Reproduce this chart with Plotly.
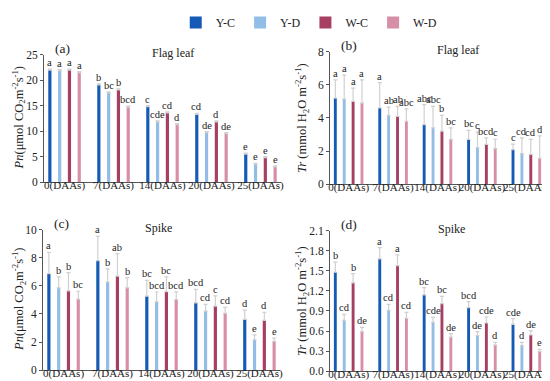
import plotly.graph_objects as go

categories = ["0(DAAs)", "7(DAAs)", "14(DAAs)", "20(DAAs)", "25(DAAs)"]
series_names = ["Y-C", "Y-D", "W-C", "W-D"]
colors = ["#155bb5", "#92bde6", "#a63f62", "#d78fa8"]

# Panel (a): Pn flag leaf
a_vals = [[22.0, 19.1, 14.8, 13.3, 5.5],
          [21.9, 17.5, 11.8, 9.7, 3.5],
          [22.0, 18.1, 13.6, 11.8, 4.8],
          [21.5, 14.7, 11.3, 9.5, 3.0]]
a_err = [[0.2, 0.2, 0.2, 0.2, 0.2],
         [0.2, 0.2, 0.2, 0.2, 0.2],
         [0.2, 0.2, 0.2, 0.2, 0.2],
         [0.2, 0.2, 0.2, 0.2, 0.2]]
a_lbl = [["a", "b", "c", "cd", "e"],
         ["a", "bc", "cde", "de", "e"],
         ["a", "b", "cd", "d", "e"],
         ["a", "bcd", "d", "de", "e"]]

# Panel (b): Tr flag leaf
b_vals = [[5.2, 4.6, 3.6, 2.7, 2.08],
          [5.14, 4.15, 3.4, 2.2, 1.84],
          [5.0, 4.1, 3.2, 2.4, 1.8],
          [4.9, 3.8, 2.7, 2.15, 1.55]]
b_err = [[1.1, 1.54, 1.2, 0.55, 0.34],
         [1.45, 0.5, 1.3, 0.94, 0.95],
         [0.8, 0.6, 0.95, 0.4, 0.9],
         [1.4, 0.75, 0.7, 0.56, 1.36]]
b_lbl = [["a", "a", "abc", "bc", "c"],
         ["a", "ab", "abc", "c", "cd"],
         ["a", "ab", "b", "bcd", "cd"],
         ["a", "abc", "bc", "c", "d"]]

# Panel (c): Pn spike
c_vals = [[6.87, 7.81, 5.27, 4.8, 3.62],
          [5.86, 6.28, 4.87, 4.21, 2.16],
          [5.65, 6.7, 5.6, 4.56, 3.55],
          [5.06, 5.86, 5.03, 4.05, 2.05]]
c_err = [[1.53, 1.72, 1.13, 0.96, 0.66],
         [0.78, 0.94, 0.7, 0.47, 0.35],
         [1.3, 1.6, 1.04, 0.73, 0.57],
         [0.56, 0.73, 0.55, 0.42, 0.23]]
c_lbl = [["a", "a", "bc", "bcd", "d"],
         ["b", "b", "bcd", "cd", "e"],
         ["b", "ab", "bc", "c", "d"],
         ["bc", "b", "bcd", "cd", "e"]]

# Panel (d): Tr spike
d_vals = [[1.48, 1.68, 1.14, 0.95, 0.70],
          [0.76, 0.91, 0.73, 0.53, 0.38],
          [1.32, 1.58, 1.01, 0.72, 0.54],
          [0.59, 0.79, 0.51, 0.39, 0.29]]
d_err = [[0.15, 0.17, 0.11, 0.09, 0.085],
         [0.09, 0.09, 0.075, 0.06, 0.05],
         [0.14, 0.16, 0.11, 0.09, 0.065],
         [0.065, 0.09, 0.05, 0.04, 0.035]]
d_lbl = [["b", "a", "bc", "bcd", "cde"],
         ["cd", "cd", "cde", "de", "d"],
         ["b", "a", "bc", "cde", "de"],
         ["de", "cd", "de", "d", "e"]]

FONT = "Liberation Serif"
SLOT = 0.2
BARW = 0.065

panels = [
    dict(vals=a_vals, err=a_err, lbl=a_lbl, xd=[36/550, 273/550], yd=[1-173/381, 1-45/381],
         rng=[0, 25], dt=5, tag="(a)", title="Flag leaf", tx=165,
         ytitle="<i>Pn</i>(μmol CO<sub>2</sub>m<sup>-2</sup>s<sup>-1</sup>)", ytx=11, tfmt=None),
    dict(vals=b_vals, err=b_err, lbl=b_lbl, xd=[322/550, 537/550], yd=[1-175/381, 1-42/381],
         rng=[0, 8], dt=2, tag="(b)", title="Flag leaf", tx=450,
         ytitle="<i>Tr</i> (mmol H<sub>2</sub>O m<sup>-2</sup>s<sup>-1</sup>)", ytx=294, tfmt=None),
    dict(vals=c_vals, err=c_err, lbl=c_lbl, xd=[35/550, 272/550], yd=[1-362/381, 1-221/381],
         rng=[0, 10], dt=2, tag="(c)", title="Spike", tx=150,
         ytitle="<i>Pn</i>(μmol CO<sub>2</sub>m<sup>-2</sup>s<sup>-1</sup>)", ytx=11, tfmt=None),
    dict(vals=d_vals, err=d_err, lbl=d_lbl, xd=[322/550, 537/550], yd=[1-363/381, 1-222/381],
         rng=[0, 2.1], dt=0.3, tag="(d)", title="Spike", tx=443,
         ytitle="<i>Tr</i> (mmol H<sub>2</sub>O m<sup>-2</sup>s<sup>-1</sup>)", ytx=294, tfmt=".1f"),
]

fig = go.Figure()
annotations = []
layout = {}
for p_i, p in enumerate(panels):
    n = "" if p_i == 0 else str(p_i + 1)
    xa, ya = "x" + n, "y" + n
    for s in range(4):
        xs = [i + (s - 1.5) * SLOT for i in range(len(categories))]
        fig.add_trace(go.Bar(
            x=xs, y=p["vals"][s], width=BARW, name=series_names[s],
            marker=dict(color=colors[s], line=dict(width=0)),
            error_y=dict(type="data", array=p["err"][s], arrayminus=[0]*5, symmetric=False,
                         color="#d0d0d0", thickness=1.2, width=2),
            xaxis=xa, yaxis=ya, showlegend=(p_i == 0)))
        for i in range(len(categories)):
            annotations.append(dict(
                x=xs[i], y=p["vals"][s][i] + p["err"][s][i], xref=xa, yref=ya,
                text=p["lbl"][s][i], showarrow=False, yanchor="bottom", yshift=-1,
                font=dict(family=FONT, size=10.5, color="#222")))
    layout["xaxis" + n] = dict(domain=p["xd"], anchor=ya, range=[-0.42, 4.42],
                               tickmode="array", tickvals=list(range(5)), ticktext=categories,
                               tickangle=0, automargin=False, ticklen=0,
                               ticklabelstandoff=-7,
                               showline=True, linecolor="#555", linewidth=1, ticks="",
                               showgrid=False, zeroline=False,
                               tickfont=dict(family=FONT, size=11, color="#222"))
    layout["yaxis" + n] = dict(domain=p["yd"], anchor=xa, range=p["rng"], dtick=p["dt"],
                               tick0=0, showline=True, linecolor="#555", linewidth=1,
                               ticks="outside", ticklen=3, tickcolor="#555",
                               showgrid=False, zeroline=False, tickformat=p["tfmt"],
                               automargin=False,
                               tickfont=dict(family=FONT, size=11.5, color="#222"))
    x0 = p["xd"][0]
    ytop = p["yd"][1]
    annotations.append(dict(x=x0 + 9/550, y=ytop + 6/381, xref="paper", yref="paper",
                            text=p["tag"], showarrow=False, xanchor="left", yanchor="middle",
                            font=dict(family=FONT, size=13.5, color="#222")))
    annotations.append(dict(x=p["tx"]/550, y=ytop + 2/381, xref="paper", yref="paper",
                            text=p["title"], showarrow=False, xanchor="center", yanchor="middle",
                            font=dict(family=FONT, size=12, color="#222")))
    annotations.append(dict(x=p["ytx"]/550, y=(p["yd"][0] + p["yd"][1]) / 2, xref="paper",
                            yref="paper", text=p["ytitle"], showarrow=False, textangle=-90,
                            xanchor="center", yanchor="middle",
                            font=dict(family=FONT, size=12.5, color="#222")))

fig.update_layout(
    width=550, height=381, margin=dict(l=0, r=0, t=0, b=0),
    paper_bgcolor="white", plot_bgcolor="white",
    barmode="overlay", annotations=annotations,
    legend=dict(orientation="h", x=0.305, y=1.005, xanchor="left", yanchor="top",
                font=dict(family=FONT, size=12, color="#222"),
                itemwidth=30, traceorder="normal", bgcolor="rgba(0,0,0,0)"),
    **layout)
fig.write_html("out.html")
